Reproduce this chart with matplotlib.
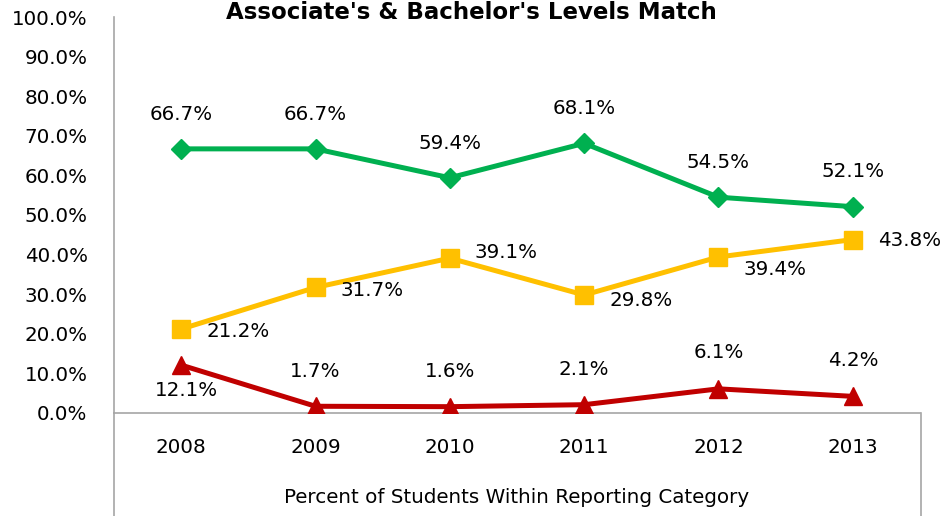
import matplotlib
matplotlib.use("Agg")
import matplotlib.pyplot as plt
from matplotlib.lines import Line2D

plt.rcParams['font.family'] = ['DejaVu Sans']

years = ["2008", "2009", "2010", "2011", "2012", "2013"]
green_vals = [66.7, 66.7, 59.4, 68.1, 54.5, 52.1]
yellow_vals = [21.2, 31.7, 39.1, 29.8, 39.4, 43.8]
red_vals = [12.1, 1.7, 1.6, 2.1, 6.1, 4.2]
yticks = [0, 10, 20, 30, 40, 50, 60, 70, 80, 90, 100]
title = "Associate's & Bachelor's Levels Match"
xlabel = "Percent of Students Within Reporting Category"

# label offsets (in points), style only
yellow_dy = [-2, -2, 4, -4, -9, -1]
red_dy = [-18, 25, 25, 25, 26, 26]

W, H = 943, 516
fig = plt.figure(figsize=(W / 100, H / 100), dpi=100)
L, R, B, T = 114 / W, 920 / W, 1 - 413 / H, 1 - 17 / H
ax = fig.add_axes([L, B, R - L, T - B])

x = list(range(len(years)))
green_c, yellow_c, red_c = "#00B050", "#FFC000", "#C00000"
lw = 3.6
ax.plot(x, green_vals, color=green_c, lw=lw, marker="D", ms=10, zorder=3)
ax.plot(x, yellow_vals, color=yellow_c, lw=lw, marker="s", ms=13, zorder=3)
ax.plot(x, red_vals, color=red_c, lw=lw, marker="^", ms=13, zorder=3)

fs = 14.3
for xi, v in zip(x, green_vals):
    ax.annotate(f"{v:.1f}%", (xi, v), xytext=(0, 25), textcoords="offset points",
                ha="center", va="center", fontsize=fs)
for xi, v, dy in zip(x, yellow_vals, yellow_dy):
    ax.annotate(f"{v:.1f}%", (xi, v), xytext=(18, dy), textcoords="offset points",
                ha="left", va="center", fontsize=fs)
for xi, v, dy in zip(x, red_vals, red_dy):
    ax.annotate(f"{v:.1f}%", (xi, v), xytext=(4 if dy < 0 else 0, dy), textcoords="offset points",
                ha="center", va="center", fontsize=fs)

ax.set_xlim(-0.5, len(years) - 0.5)
ax.set_ylim(0, 100)
ax.set_yticks(yticks)
ax.set_yticklabels([f"{t:.1f}%" for t in yticks], fontsize=fs)
ax.set_xticks(x)
ax.set_xticklabels(years, fontsize=fs)
ax.tick_params(axis="y", length=0, pad=19)
ax.tick_params(axis="x", length=0, pad=18)
ax.set_xlabel(xlabel, fontsize=fs, labelpad=22)

spc = "#A6A6A6"
for s in ["top", "right"]:
    ax.spines[s].set_visible(False)
for s in ["left", "bottom"]:
    ax.spines[s].set_color(spc)
    ax.spines[s].set_linewidth(1.2)

fig.add_artist(Line2D([L, L], [0, B], transform=fig.transFigure, color=spc, lw=1.2))
fig.add_artist(Line2D([R + 1 / W, R + 1 / W], [0, B], transform=fig.transFigure, color=spc, lw=1.2))

fig.text(0.5, 1 - 19 / H, title, ha="center", va="baseline", fontsize=16.5, fontweight="bold")

fig.savefig("out.png", dpi=100)
